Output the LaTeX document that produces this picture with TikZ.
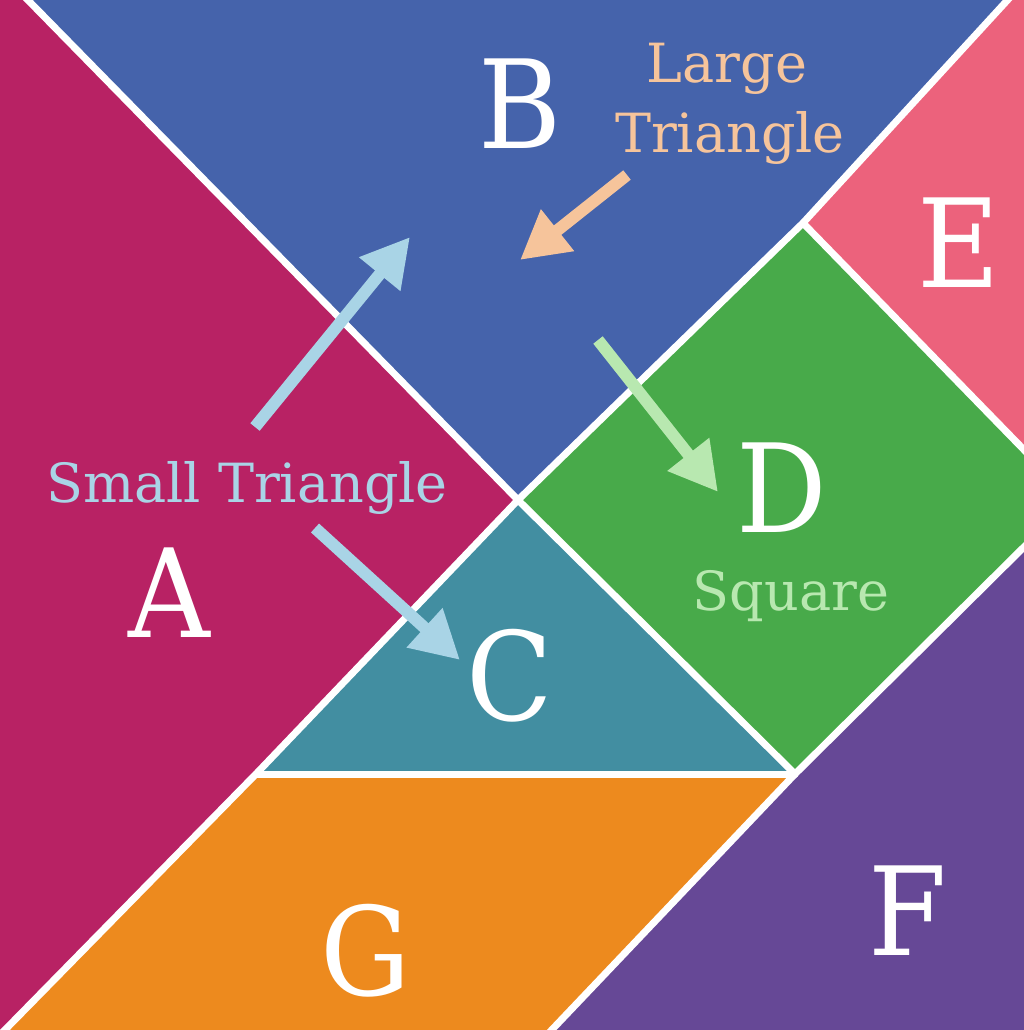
\documentclass[tikz,border=0pt]{standalone}
\usepackage{fontspec}
\setmainfont{DejaVu Serif}
\usetikzlibrary{arrows.meta}
\definecolor{cA}{HTML}{B82264}
\definecolor{cB}{HTML}{4563AB}
\definecolor{cC}{HTML}{428EA1}
\definecolor{cD}{HTML}{48AA4A}
\definecolor{cE}{HTML}{EC627C}
\definecolor{cF}{HTML}{664896}
\definecolor{cG}{HTML}{ED8A1E}
\definecolor{peach}{HTML}{F6C49B}
\definecolor{skyb}{HTML}{A9D4E6}
\definecolor{mint}{HTML}{B8E8B0}
\begin{document}
\begin{tikzpicture}[x=1pt,y=-1pt,
  gap/.style={white,line width=7pt,line cap=round,line join=round},
  arr/.style={line width=12pt,-{Triangle[length=48pt,width=50pt]}},
  big/.style={white,font=\fontsize{123}{123}\selectfont,inner sep=0pt,anchor=base},
  lab/.style={font=\fontsize{54}{60}\selectfont,inner sep=0pt,anchor=base}]
\useasboundingbox (0,0) rectangle (1024,1030);
\clip (0,0) rectangle (1024,1030);
\fill[white] (0,0) rectangle (1024,1030);
% pieces
\fill[cA] (0,0) -- (28,0) -- (518,500) -- (256,774) -- (5,1030) -- (0,1030) -- cycle;
\fill[cB] (28,0) -- (1008,0) -- (803,223) -- (518,500) -- cycle;
\fill[cE] (1008,0) -- (1024,0) -- (1024,450) -- (803,223) -- cycle;
\fill[cD] (803,223) -- (1024,450) -- (1024,547) -- (795,774) -- (518,500) -- cycle;
\fill[cF] (1024,547) -- (1024,1030) -- (552,1030) -- (795,774) -- cycle;
\fill[cC] (518,500) -- (795,774) -- (256,774) -- cycle;
\fill[cG] (256,774) -- (795,774) -- (552,1030) -- (5,1030) -- cycle;
% white gaps
\draw[gap] (21,-7) -- (518,500) -- (795,774);
\draw[gap] (1014,-7) -- (803,223) -- (518,500) -- (256,774) -- (-2,1037);
\draw[gap] (803,223) -- (1031,457);
\draw[gap] (1031,540) -- (795,774) -- (545,1037);
\draw[gap] (256,774) -- (795,774);
% letters
\node[big] (B) at (520,148) {\scalebox{0.92}[1]{B}};
\node[big] (E) at (959,287) {\scalebox{0.92}[1]{E}};
\node[big] (D) at (782,532) {\scalebox{0.92}[1]{D}};
\node[big] (A) at (169,637) {\scalebox{0.92}[1]{A}};
\node[big] (C) at (510,720) {\scalebox{0.92}[1]{C}};
\node[big] (F) at (908,955) {\scalebox{0.92}[1]{F}};
\node[big] (G) at (366,995) {\scalebox{0.92}[1]{G}};
% labels
\node[lab,text=peach] (lt1) at (727,83) {Large};
\node[lab,text=peach] (lt2) at (730,152) {Triangle};
\node[lab,text=skyb] (st) at (247,502) {Small Triangle};
\node[lab,text=mint] (sq) at (791,610) {Square};
% arrow ends
\coordinate (p1) at (627,175); \coordinate (p2) at (520,260);
\coordinate (s1) at (255,427); \coordinate (s2) at (410,237);
\coordinate (s3) at (315,528); \coordinate (s4) at (460,660);
\coordinate (g1) at (598,340); \coordinate (g2) at (718,492);
\draw[arr,peach] (p1) -- (p2);
\draw[arr,skyb] (s1) -- (s2);
\draw[arr,skyb] (s3) -- (s4);
\draw[arr,mint] (g1) -- (g2);
\end{tikzpicture}
\end{document}
